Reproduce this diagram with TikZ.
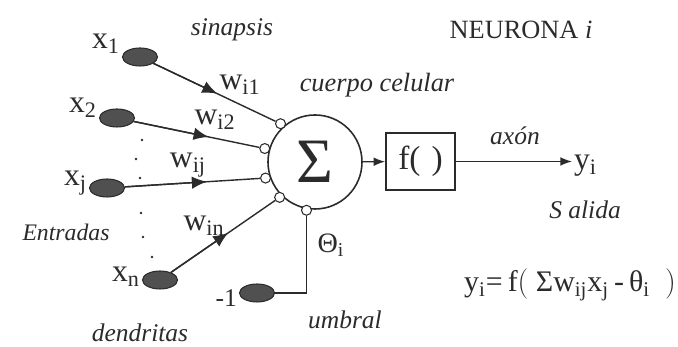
\documentclass[tikz,border=0pt]{standalone}
\usepackage{fontspec}
\setmainfont{Liberation Serif}
\usepackage{xcolor}
\definecolor{neuInk}{HTML}{2B2B2B}
\definecolor{neuDark}{HTML}{505050}
\usepackage{tikz}
\usetikzlibrary{arrows.meta,calc,positioning,shapes.geometric}

\begin{document}
\begin{tikzpicture}[>=Latex,font=\fontsize{14.5}{16}\selectfont,text=neuInk]
  \tikzset{
    dendnode/.style={
      ellipse,
      draw=neuInk,
      fill=neuDark,
      minimum width=0.70cm,
      minimum height=0.36cm,
      inner sep=0pt,
      line width=0.6pt
    },
    synap/.style={circle,draw=neuInk,fill=white,minimum size=0.20cm,inner sep=0pt,line width=0.6pt},
    wire/.style={draw=neuInk,line width=0.8pt},
    halfwire/.style={draw=neuInk,line width=0.8pt,-{Latex[length=3mm,width=2.5mm]}},
    varlabel/.style={font=\fontsize{18}{20}\selectfont,inner sep=1pt},
    namelabel/.style={font=\fontsize{14.5}{16}\selectfont\itshape}
  }
  \path[use as bounding box] (0,0) rectangle (13.56,6.94);

  % cell body and activation
  \node[circle,draw=neuInk,line width=0.9pt,minimum size=1.88cm,inner sep=0pt] (sum) at (6.30,3.70) {\fontsize{36}{38}\selectfont Σ};
  \node[draw=neuInk,line width=0.9pt,minimum width=1.38cm,minimum height=1.14cm,inner sep=0pt] (fbox) at (8.41,3.71) {\fontsize{19}{21}\selectfont f(\,\,)};
  \node[varlabel,anchor=west] (yi) at (11.44,3.62) {$\mathrm{y}_{\mathrm{i}}$};
  \draw[->,wire] (sum) -- (fbox);
  \draw[->,wire] (fbox.east) -- (fbox.east -| yi.west);

  % synapses
  \node[synap] (s1) at ($(sum)+(132:1.03)$) {};
  \node[synap] (s2) at ($(sum)+(165:1.04)$) {};
  \node[synap] (s3) at ($(sum)+(198:1.04)$) {};
  \node[synap] (s4) at ($(sum)+(225:1.00)$) {};
  \node[synap] (s5) at ($(sum)+(260:0.98)$) {};

  % inputs
  \node[dendnode] (x1) at (2.80,5.80) {};
  \node[dendnode] (x2) at (2.34,4.58) {};
  \node[dendnode] (xj) at (2.14,3.18) {};
  \node[dendnode] (xn) at (3.20,1.34) {};
  \node[dendnode] (m1) at (5.14,1.08) {};
  \node[varlabel,anchor=east] (lx1) at ([yshift=0.26cm]x1.west) {$\mathrm{x}_{\mathrm{1}}$};
  \node[varlabel,anchor=east] (lx2) at ([yshift=0.20cm]x2.west) {$\mathrm{x}_{\mathrm{2}}$};
  \node[varlabel,anchor=east] (lxj) at ([yshift=0.10cm]xj.west) {$\mathrm{x}_{\mathrm{j}}$};
  \node[varlabel,anchor=east] (lxn) at ([yshift=0.06cm]xn.west) {$\mathrm{x}_{\mathrm{n}}$};
  \node[anchor=east,inner sep=1pt] (lm1) at ([yshift=-0.10cm]m1.west) {-1};

  \draw[wire] (x1) -- (s1);
  \draw[wire] (x2) -- (s2);
  \draw[wire] (xj) -- (s3);
  \draw[wire] (xn) -- (s4);
  \draw[halfwire] (x1) -- ($(x1)!0.55!(s1)$);
  \draw[halfwire] (x2) -- ($(x2)!0.62!(s2)$);
  \draw[halfwire] (xj) -- ($(xj)!0.63!(s3)$);
  \draw[halfwire] (xn) -- ($(xn)!0.57!(s4)$);
  \draw[wire] (m1) -| (s5);

  \foreach \p in {(2.84,4.14),(2.72,3.76),(2.80,3.38),(2.82,2.68),(2.86,2.20),(3.04,1.80)}
    \fill[neuInk] \p circle (0.028);

  % weights
  \node[varlabel] (w1) at (4.80,5.24) {$\mathrm{w}_{\mathrm{i1}}$};
  \node[varlabel] (w2) at (4.30,4.54) {$\mathrm{w}_{\mathrm{i2}}$};
  \node[varlabel] (wj) at (3.76,3.64) {$\mathrm{w}_{\mathrm{ij}}$};
  \node[varlabel] (wn) at (4.08,2.42) {$\mathrm{w}_{\mathrm{in}}$};
  \node[varlabel,font=\fontsize{16}{18}\selectfont] (th) at (6.62,2.04) {$\mbox{Θ}_{\mathrm{i}}$};

  % names
  \node[namelabel] (sinap) at (4.64,6.34) {sinapsis};
  \node[font=\fontsize{15}{17}\selectfont] (neur) at (10.42,6.34) {NEURONA \textit{i}};
  \node[namelabel,font=\fontsize{15}{17}\selectfont\itshape] (cuerpo) at (7.54,5.24) {cuerpo celular};
  \node[namelabel] (axon) at (10.30,4.22) {axón};
  \node[namelabel] (salida) at (11.70,2.74) {S alida};
  \node[namelabel,font=\fontsize{13.5}{15}\selectfont\itshape] (entr) at (1.32,2.30) {Entradas};
  \node[namelabel] (dend) at (2.80,0.28) {dendritas};
  \node[namelabel] (umb) at (6.90,0.54) {umbral};
  \node[varlabel,font=\fontsize{17}{19}\selectfont] (eq) at (11.40,1.24) {$\mathrm{y}_{\mathrm{i}}\mbox{=}\,\mathrm{f(}\ \mbox{Σ}\mathrm{w}_{\mathrm{ij}}\mathrm{x}_{\mathrm{j}}\,\mbox{-}\,\mbox{θ}_{\mathrm{i}}\ \ \mathrm{)}$};
\end{tikzpicture}
\end{document}
